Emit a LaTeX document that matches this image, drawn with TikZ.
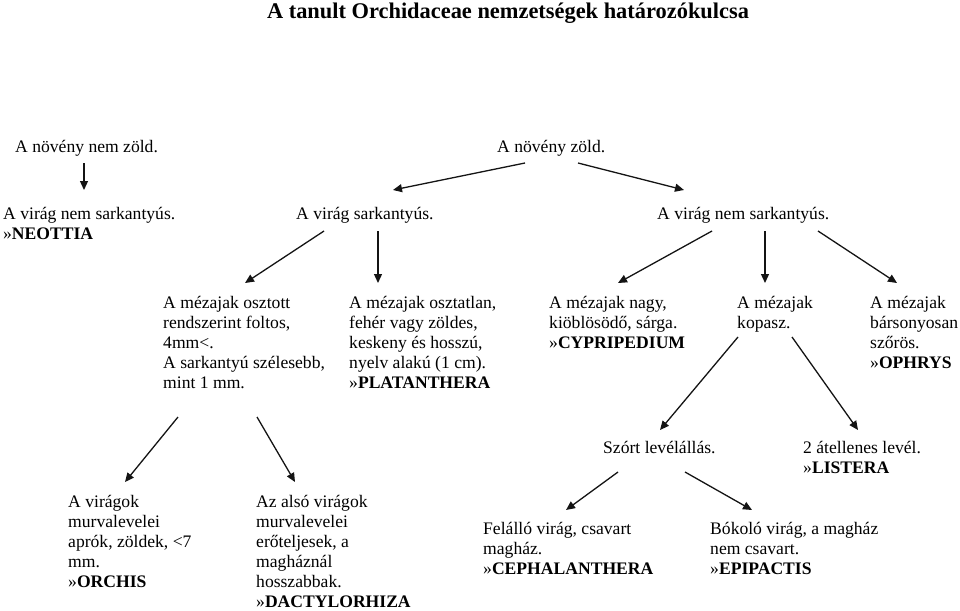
\documentclass[tikz,border=0pt]{standalone}
\usepackage{fontspec}
\setmainfont{Liberation Serif}
\usepackage{xcolor}
\definecolor{cText}{HTML}{000000}
\definecolor{cLine}{HTML}{141414}
\usetikzlibrary{arrows.meta,calc}
\tikzset{
  key-text/.style={anchor=north west,align=left,inner sep=0pt,text=cText,
    font=\fontsize{17.6pt}{20pt}\selectfont},
  key-title/.style={anchor=base,inner sep=0pt,text=cText,
    font=\fontsize{22.4pt}{26pt}\selectfont\bfseries},
  arrow/.style={-{Triangle[length=9pt,width=8pt]},line width=1.3pt,draw=cLine},
}
\newcommand{\genus}[1]{»\textbf{#1}}

\begin{document}
\begin{tikzpicture}[x=1pt,y=-1pt]
  \useasboundingbox (0,0) rectangle (960,610);
  \node[key-title] (title) at (508,18.5) {A tanult Orchidaceae nemzetségek határozókulcsa};
  % szint 1-2
  \node[key-text] (nzold) at (15,140)  {A növény nem zöld.};
  \node[key-text] (zold)  at (497,140) {A növény zöld.};
  \node[key-text] (neottia) at (3,207) {A virág nem sarkantyús.\\\genus{NEOTTIA}};
  \node[key-text] (sark)  at (296,207) {A virág sarkantyús.};
  \node[key-text] (nsark) at (657,207) {A virág nem sarkantyús.};
  % szint 3
  \node[key-text] (osztott) at (163,296) {A mézajak osztott\\rendszerint foltos,\\4mm<.\\A sarkantyú szélesebb,\\mint 1 mm.};
  \node[key-text] (platanthera) at (349,296) {A mézajak osztatlan,\\fehér vagy zöldes,\\keskeny és hosszú,\\nyelv alakú (1 cm).\\\genus{PLATANTHERA}};
  \node[key-text] (cypripedium) at (549,296) {A mézajak nagy,\\kiöblösödő, sárga.\\\genus{CYPRIPEDIUM}};
  \node[key-text] (kopasz) at (737,296) {A mézajak\\kopasz.};
  \node[key-text] (ophrys) at (870,296) {A mézajak\\bársonyosan\\szőrös.\\\genus{OPHRYS}};
  % szint 4-5
  \node[key-text] (orchis) at (68,495) {A virágok\\murvalevelei\\aprók, zöldek, <7\\mm.\\\genus{ORCHIS}};
  \node[key-text] (dactylorhiza) at (256,495) {Az alsó virágok\\murvalevelei\\erőteljesek, a\\magháznál\\hosszabbak.\\\genus{DACTYLORHIZA}};
  \node[key-text] (szort) at (603,441) {Szórt levélállás.};
  \node[key-text] (listera) at (803,441) {2 átellenes levél.\\\genus{LISTERA}};
  \node[key-text] (cephalanthera) at (483,522) {Felálló virág, csavart\\magház.\\\genus{CEPHALANTHERA}};
  \node[key-text] (epipactis) at (710,522) {Bókoló virág, a magház\\nem csavart.\\\genus{EPIPACTIS}};

  \draw[arrow] ($(nzold.north west)+(69,23)$) -- ($(neottia.north west)+(81,-17)$);
  \draw[arrow] ($(zold.north west)+(28,23)$) -- ($(sark.north west)+(97,-17)$);
  \draw[arrow] ($(zold.north west)+(81,23)$) -- ($(nsark.north west)+(27,-17)$);
  \draw[arrow] ($(sark.north west)+(28,24)$) -- ($(osztott.north west)+(82,-13)$);
  \draw[arrow] ($(sark.north west)+(82,24)$) -- ($(platanthera.north west)+(29,-13)$);
  \draw[arrow] ($(nsark.north west)+(55,24)$) -- ($(cypripedium.north west)+(69,-13)$);
  \draw[arrow] ($(nsark.north west)+(108,24)$) -- ($(kopasz.north west)+(28,-13)$);
  \draw[arrow] ($(nsark.north west)+(161,24)$) -- ($(ophrys.north west)+(27,-13)$);
  \draw[arrow] ($(osztott.north west)+(15,121)$) -- ($(orchis.north west)+(57,-13)$);
  \draw[arrow] ($(osztott.north west)+(94,121)$) -- ($(dactylorhiza.north west)+(39,-13)$);
  \draw[arrow] ($(kopasz.north west)+(1,41)$) -- ($(szort.north west)+(57,-11)$);
  \draw[arrow] ($(kopasz.north west)+(55,41)$) -- ($(listera.north west)+(55,-11)$);
  \draw[arrow] ($(szort.north west)+(15,31)$) -- ($(cephalanthera.north west)+(83,-12)$);
  \draw[arrow] ($(szort.north west)+(82,31)$) -- ($(epipactis.north west)+(42,-12)$);
\end{tikzpicture}
\end{document}
